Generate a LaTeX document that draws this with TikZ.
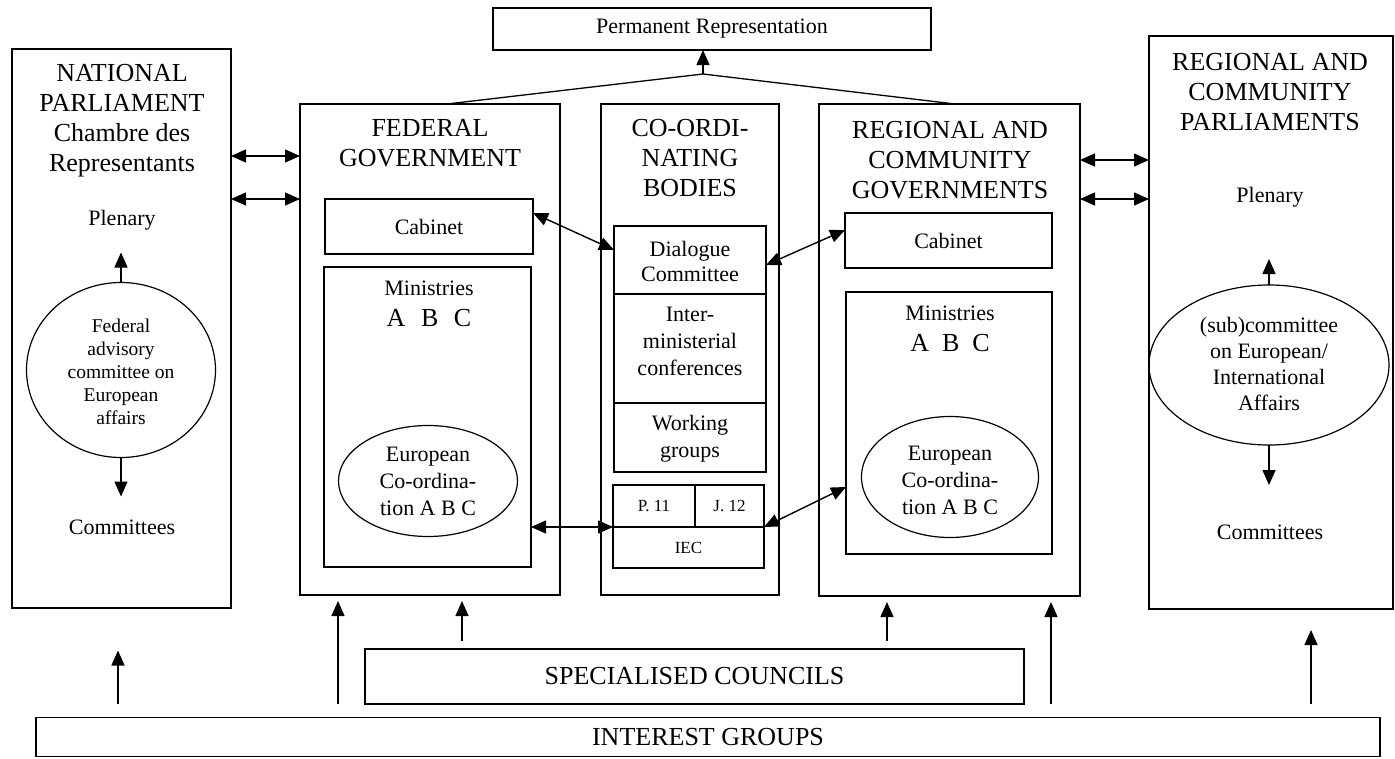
\documentclass[tikz,border=0pt]{standalone}
\usepackage{fontspec}
\setmainfont{Liberation Serif}
\usetikzlibrary{arrows.meta,shapes.geometric,calc}
\begin{document}
\begin{tikzpicture}[x=1pt,y=-1pt,
 box/.style={draw, line width=1.5pt, rectangle, inner sep=0pt, outer sep=0pt},
 oval/.style={draw, line width=1.2pt, ellipse, inner sep=0pt, outer sep=0pt},
 big/.style={font=\fontsize{26}{30}\selectfont, align=center, inner sep=0pt},
 txt/.style={font=\fontsize{22}{26}\selectfont, align=center},
 sml/.style={font=\fontsize{19.5}{23}\selectfont, align=center, inner sep=0pt},
 tny/.style={font=\fontsize{17}{20}\selectfont},
 arr/.style={-{Triangle[length=15pt,width=13pt]}, line width=1.4pt},
 dbl/.style={{Triangle[length=15pt,width=13pt]}-{Triangle[length=15pt,width=13pt]}, line width=1.4pt}]
\useasboundingbox (0,0) rectangle (1395,758);

% outer frames
\node[box, txt, minimum width=438pt, minimum height=42pt] (perm) at (712,29) {Permanent Representation};
\node[box, minimum width=219pt, minimum height=559pt] (natbox) at (121.5,328.5) {};
\node[box, minimum width=260pt, minimum height=491pt] (fedbox) at (430,349.5) {};
\node[box, minimum width=178pt, minimum height=491pt] (coordbox) at (690,349.5) {};
\node[box, minimum width=261pt, minimum height=492pt] (regbox) at (949.5,350) {};
\node[box, minimum width=244pt, minimum height=573pt] (parlbox) at (1271,322.5) {};
\node[box, minimum width=659pt, minimum height=55pt, font=\fontsize{26}{30}\selectfont] (spec) at (694.5,676.5) {SPECIALISED COUNCILS};
\node[box, minimum width=1344pt, minimum height=39pt, font=\fontsize{26}{30}\selectfont] (interest) at (708,737) {INTEREST GROUPS};

% titles
\node[big] (natT) at (122,121) {NATIONAL\\PARLIAMENT\\Chambre des\\Representants};
\node[big] (fedT) at (430,143) {FEDERAL\\GOVERNMENT};
\node[big] (coordT) at (690,158) {CO-ORDI-\\NATING\\BODIES};
\node[big] (regT) at (950,160) {REGIONAL AND\\COMMUNITY\\GOVERNMENTS};
\node[big] (parlT) at (1270,92) {REGIONAL AND\\COMMUNITY\\PARLIAMENTS};

% national parliament contents
\node[txt, inner sep=0pt] (natPlen) at (122,220) {Plenary};
\node[oval, minimum width=189pt, minimum height=175pt] (natcirc) at (121,370) {};
\node[sml] (natcircT) at (121,372) {Federal\\advisory\\committee on\\European\\affairs};
\node[txt, inner sep=0pt] (natCom) at (122,527) {Committees};

% federal government contents
\node[box, txt, minimum width=208pt, minimum height=55pt] (fedcab) at (429,226.5) {Cabinet};
\node[box, minimum width=207pt, minimum height=300pt] (fedmin) at (427.5,417) {};
\node[txt, inner sep=0pt] (fedminT) at (429,288) {Ministries};
\node[big] (fedabc) at (429,318) {A\hspace{0.6em}B\hspace{0.6em}C};
\node[oval, minimum width=179pt, minimum height=111pt] (fedeuro) at (428,481) {};
\node[txt, inner sep=0pt, font=\fontsize{22}{27}\selectfont] (fedeuroT) at (428,481) {European\\Co-ordina-\\tion A B C};

% co-ordinating bodies contents
\node[box, minimum width=152pt, minimum height=68pt] (dialogue) at (690,260) {};
\node[txt, inner sep=0pt, font=\fontsize{22}{25}\selectfont] (dialogueT) at (690,261) {Dialogue\\Committee};
\node[box, minimum width=152pt, minimum height=109pt] (inter) at (690,348.5) {};
\node[txt, inner sep=0pt, font=\fontsize{22}{27}\selectfont] (interT) at (690,341) {Inter-\\ministerial\\conferences};
\node[box, minimum width=152pt, minimum height=69pt] (working) at (690,437.5) {};
\node[txt, inner sep=0pt, font=\fontsize{22}{27}\selectfont] (workingT) at (690,439) {Working\\groups};
\node[box, tny, minimum width=82pt, minimum height=42pt] (p11) at (654,506) {P. 11};
\node[box, tny, minimum width=69pt, minimum height=42pt] (j12) at (729.5,506) {J. 12};
\node[box, tny, minimum width=151pt, minimum height=41pt] (iec) at (688.5,547.5) {IEC};

% regional governments contents
\node[box, txt, minimum width=207pt, minimum height=55pt] (regcab) at (948.5,240.5) {Cabinet};
\node[box, minimum width=206pt, minimum height=262pt] (regmin) at (949,423) {};
\node[txt, inner sep=0pt] (regminT) at (950,313) {Ministries};
\node[big] (regabc) at (950,343) {A\hspace{0.5em}B\hspace{0.5em}C};
\node[oval, minimum width=177pt, minimum height=121pt] (regeuro) at (950,477) {};
\node[txt, inner sep=0pt, font=\fontsize{22}{27}\selectfont] (regeuroT) at (950,480) {European\\Co-ordina-\\tion A B C};

% regional parliaments contents
\node[txt, inner sep=0pt] (parlPlen) at (1270,197) {Plenary};
\node[oval, minimum width=240pt, minimum height=160pt] (parlcirc) at (1269,365) {};
\node[txt, inner sep=0pt, font=\fontsize{22}{26}\selectfont] (parlcircT) at (1269,364) {(sub)committee\\on European/\\International\\Affairs};
\node[txt, inner sep=0pt] (parlCom) at (1270,532) {Committees};

% permanent representation links
\coordinate (junc) at (703,74);
\draw[line width=1.3pt] ([xshift=17pt]fedbox.north) -- (junc) -- ([xshift=5.5pt]regbox.north);
\draw[arr] (junc) -- (perm.south -| junc);

% parliament <-> government
\draw[dbl] (natbox.east |- 0,156) -- (fedbox.west |- 0,156);
\draw[dbl] (natbox.east |- 0,199) -- (fedbox.west |- 0,199);
\draw[dbl] (regbox.east |- 0,160) -- (parlbox.west |- 0,160);
\draw[dbl] (regbox.east |- 0,199) -- (parlbox.west |- 0,199);

% cabinets <-> dialogue committee
\draw[dbl] ([yshift=13.5pt]fedcab.east) -- ([yshift=10pt]dialogue.west);
\draw[dbl] ([yshift=-5pt]dialogue.east) -- ([yshift=10.5pt]regcab.west);

% ministries <-> IEC
\draw[dbl] (fedmin.east |- iec.north west) -- (iec.north west);
\draw[dbl] (iec.north east) -- ([yshift=-64pt]regmin.west);

% inside parliaments
\draw[arr] (natcirc.north) -- ++(0,-30);
\draw[arr] (natcirc.south) -- ++(0,39);
\draw[arr] (parlcirc.north) -- ++(0,-26);
\draw[arr] (parlcirc.south) -- ++(0,40);

% bottom arrows
\draw[arr] ([yshift=14pt]interest.north -| 118,0) -- ++(0,-53);
\draw[arr] ([yshift=14pt]interest.north -| 338,0) -- ([yshift=-6pt]fedbox.south -| 338,0);
\draw[arr] ([yshift=8pt]spec.north -| 462,0) -- ([yshift=-6pt]fedbox.south -| 462,0);
\draw[arr] ([yshift=8pt]spec.north -| 887,0) -- ([yshift=-6pt]regbox.south -| 887,0);
\draw[arr] ([yshift=14pt]interest.north -| 1051,0) -- ([yshift=-6pt]regbox.south -| 1051,0);
\draw[arr] ([yshift=14pt]interest.north -| 1311,0) -- ([yshift=-21pt]parlbox.south -| 1311,0);
\end{tikzpicture}
\end{document}
